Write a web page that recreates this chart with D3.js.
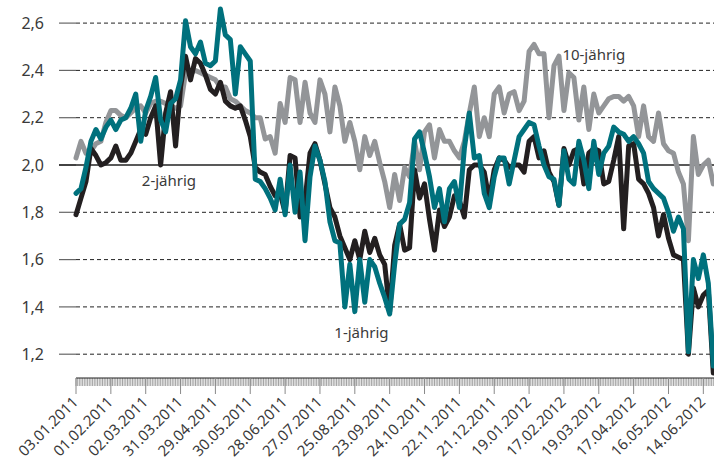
<!DOCTYPE html>
<html lang="de">
<head>
<meta charset="UTF-8">
<title>Renditen 1-, 2- und 10-jährig</title>
<script src="https://d3js.org/d3.v7.min.js"></script>
<style>
    body { margin: 0; background: #fff; }
    svg { display: block; font-family: 'Noto Sans', 'DejaVu Sans', sans-serif; }
    .ylab, .xlab, .slab { fill: #3a3a3a; }
</style>
</head>
<body>
<svg width="714" height="471"></svg>
<script>
// trading days from 03.01.2011, one sample every 3rd trading day
const sampleStep = 3;
const lastDay = 384;

const tickLabels = ["03.01.2011", "01.02.2011", "02.03.2011", "31.03.2011", "29.04.2011",
    "30.05.2011", "28.06.2011", "27.07.2011", "25.08.2011", "23.09.2011", "24.10.2011",
    "22.11.2011", "21.12.2011", "19.01.2012", "17.02.2012", "19.03.2012", "17.04.2012",
    "16.05.2012", "14.06.2012"];
const tickEvery = 21;

const yTicks = [1.2, 1.4, 1.6, 1.8, 2.0, 2.2, 2.4, 2.6];

const seriesNames = ["10-jährig", "2-jährig", "1-jährig"];

const y10 = [
    2.03, 2.10, 2.05, 2.06, 2.09, 2.10, 2.18, 2.23, 2.23, 2.21,
    2.20, 2.22, 2.24, 2.25, 2.22, 2.26, 2.27, 2.27, 2.26, 2.25,
    2.24, 2.25, 2.39, 2.39, 2.40, 2.39, 2.38, 2.37, 2.36, 2.33,
    2.33, 2.28, 2.27, 2.25, 2.23, 2.22, 2.20, 2.20, 2.11, 2.12,
    2.05, 2.26, 2.18, 2.37, 2.36, 2.18, 2.35, 2.22, 2.18, 2.36,
    2.30, 2.14, 2.33, 2.25, 2.10, 2.18, 2.10, 1.98, 2.12, 2.04,
    2.10, 2.01, 1.93, 1.82, 1.96, 1.85, 1.99, 1.95, 2.10, 1.98,
    2.14, 2.17, 2.03, 2.15, 2.10, 2.10, 2.06, 2.03, 2.10, 2.22,
    2.33, 2.12, 2.20, 2.12, 2.30, 2.33, 2.22, 2.30, 2.31, 2.23,
    2.27, 2.48, 2.51, 2.47, 2.47, 2.20, 2.42, 2.46, 2.23, 2.39,
    2.37, 2.19, 2.33, 2.15, 2.30, 2.22, 2.25, 2.28, 2.29, 2.29,
    2.27, 2.29, 2.25, 2.12, 2.25, 2.12, 2.10, 2.22, 2.09, 2.06,
    2.05, 1.97, 1.92, 1.68, 2.12, 1.96, 2.00, 2.02, 1.92
];

const y2 = [
    1.79, 1.86, 1.93, 2.07, 2.04, 2.00, 2.01, 2.03, 2.08, 2.02,
    2.02, 2.05, 2.10, 2.15, 2.13, 2.20, 2.25, 2.00, 2.22, 2.31,
    2.08, 2.33, 2.46, 2.36, 2.45, 2.43, 2.38, 2.32, 2.30, 2.35,
    2.27, 2.25, 2.24, 2.25, 2.19, 2.12, 1.99, 1.97, 1.96, 1.91,
    1.87, 1.88, 1.80, 2.04, 2.03, 1.78, 1.85, 2.05, 2.09, 2.02,
    1.92, 1.82, 1.78, 1.70, 1.65, 1.60, 1.68, 1.60, 1.72, 1.63,
    1.69, 1.62, 1.58, 1.38, 1.66, 1.75, 1.64, 1.65, 1.98, 1.86,
    1.92, 1.77, 1.64, 1.81, 1.74, 1.78, 1.87, 1.85, 1.78, 1.98,
    2.00, 2.00, 1.97, 1.85, 1.98, 2.03, 2.02, 1.99, 2.00, 2.00,
    1.97, 2.10, 2.12, 2.03, 2.06, 1.97, 1.93, 1.83, 2.07, 2.00,
    2.06, 2.07, 1.92, 2.05, 2.07, 2.06, 1.92, 1.93, 2.02, 2.12,
    1.73, 2.08, 2.09, 1.94, 1.92, 1.88, 1.82, 1.70, 1.79, 1.69,
    1.62, 1.61, 1.60, 1.20, 1.48, 1.40, 1.45, 1.47, 1.12
];

const y1 = [
    1.88, 1.90, 1.99, 2.10, 2.15, 2.11, 2.16, 2.19, 2.15, 2.19,
    2.20, 2.24, 2.30, 2.10, 2.23, 2.29, 2.37, 2.19, 2.14, 2.26,
    2.28, 2.36, 2.61, 2.50, 2.47, 2.52, 2.43, 2.42, 2.44, 2.66,
    2.55, 2.53, 2.30, 2.50, 2.47, 2.44, 1.94, 1.93, 1.90, 1.86,
    1.81, 1.94, 1.79, 2.00, 1.80, 1.97, 1.68, 1.95, 2.08, 2.02,
    1.93, 1.76, 1.68, 1.67, 1.40, 1.58, 1.38, 1.60, 1.42, 1.60,
    1.57, 1.50, 1.44, 1.37, 1.58, 1.75, 1.77, 1.84, 2.11, 2.14,
    2.05, 1.95, 1.82, 1.90, 1.76, 1.90, 1.93, 1.82, 2.07, 2.22,
    2.03, 2.04, 1.88, 1.82, 1.95, 2.03, 2.03, 1.92, 2.02, 2.12,
    2.15, 2.18, 2.17, 2.08, 2.00, 1.95, 1.94, 1.83, 2.06, 1.94,
    1.92, 2.10, 2.02, 1.90, 2.10, 1.96, 2.05, 2.08, 2.16, 2.14,
    2.13, 2.10, 2.12, 2.09, 2.05, 1.93, 1.90, 1.88, 1.86, 1.80,
    1.72, 1.78, 1.73, 1.21, 1.60, 1.52, 1.62, 1.50, 1.15
];

const svg = d3.select("svg");
const W = +svg.attr("width");

const x = d3.scaleLinear().domain([0, lastDay]).range([76, 713.3]);
const y = d3.scaleLinear().domain([1.2, 2.6]).range([354.2, 23.1]);

const colors = { "10-jährig": "#939598", "2-jährig": "#231f20", "1-jährig": "#00717d" };

// y grid
yTicks.forEach(t => {
    const yy = y(t);
    svg.append("line")
        .attr("x1", 59).attr("x2", 76).attr("y1", yy).attr("y2", yy)
        .attr("stroke", "#666").attr("stroke-width", 1.2);
    if (Math.abs(t - 2.0) < 1e-9) {
        svg.append("line")
            .attr("x1", 59).attr("x2", W).attr("y1", yy).attr("y2", yy)
            .attr("stroke", "#222").attr("stroke-width", 1.6);
    } else {
        svg.append("line")
            .attr("x1", 76).attr("x2", W).attr("y1", yy).attr("y2", yy)
            .attr("stroke", "#222").attr("stroke-width", 1)
            .attr("stroke-dasharray", "4,3");
    }
    svg.append("text")
        .attr("class", "ylab")
        .attr("x", 44).attr("y", yy).attr("dy", "0.36em")
        .attr("text-anchor", "end")
        .style("font-size", "16px")
        .text(d3.format(".1f")(t).replace(".", ","));
});

// x axis
const axisY = 378;
svg.append("g")
    .selectAll("line")
    .data(d3.range(0, lastDay + 1))
    .join("line")
    .attr("x1", d => x(d)).attr("x2", d => x(d))
    .attr("y1", axisY).attr("y2", axisY + 8)
    .attr("stroke", "#8a8a8a").attr("stroke-width", 0.8);

svg.append("line")
    .attr("x1", 76).attr("x2", W).attr("y1", axisY).attr("y2", axisY)
    .attr("stroke", "#222").attr("stroke-width", 1.2);

tickLabels.forEach((lab, i) => {
    const xx = x(i * tickEvery);
    svg.append("line")
        .attr("x1", xx).attr("x2", xx).attr("y1", axisY).attr("y2", axisY + 16)
        .attr("stroke", "#8a8a8a").attr("stroke-width", 1);
    svg.append("text")
        .attr("class", "xlab")
        .attr("text-anchor", "end")
        .attr("transform", `translate(${xx + 3},${axisY + 25}) rotate(-45)`)
        .style("font-size", "15px")
        .text(lab);
});

// lines
const line = d3.line()
    .x((d, i) => x(i * sampleStep))
    .y(d => y(d));

const seriesData = { "10-jährig": y10, "2-jährig": y2, "1-jährig": y1 };

seriesNames.forEach(name => {
    svg.append("path")
        .datum(seriesData[name])
        .attr("fill", "none")
        .attr("stroke", colors[name])
        .attr("stroke-width", 5)
        .attr("stroke-linejoin", "round")
        .attr("stroke-linecap", "round")
        .attr("d", line);
});

// series labels (trading day, value)
const labelAt = { "10-jährig": [312, 2.445], "2-jährig": [56, 1.91], "1-jährig": [172, 1.27] };
seriesNames.forEach(name => {
    svg.append("text")
        .attr("class", "slab")
        .attr("x", x(labelAt[name][0]))
        .attr("y", y(labelAt[name][1]))
        .attr("text-anchor", "middle")
        .style("font-size", "15px")
        .text(name);
});
</script>
</body>
</html>
